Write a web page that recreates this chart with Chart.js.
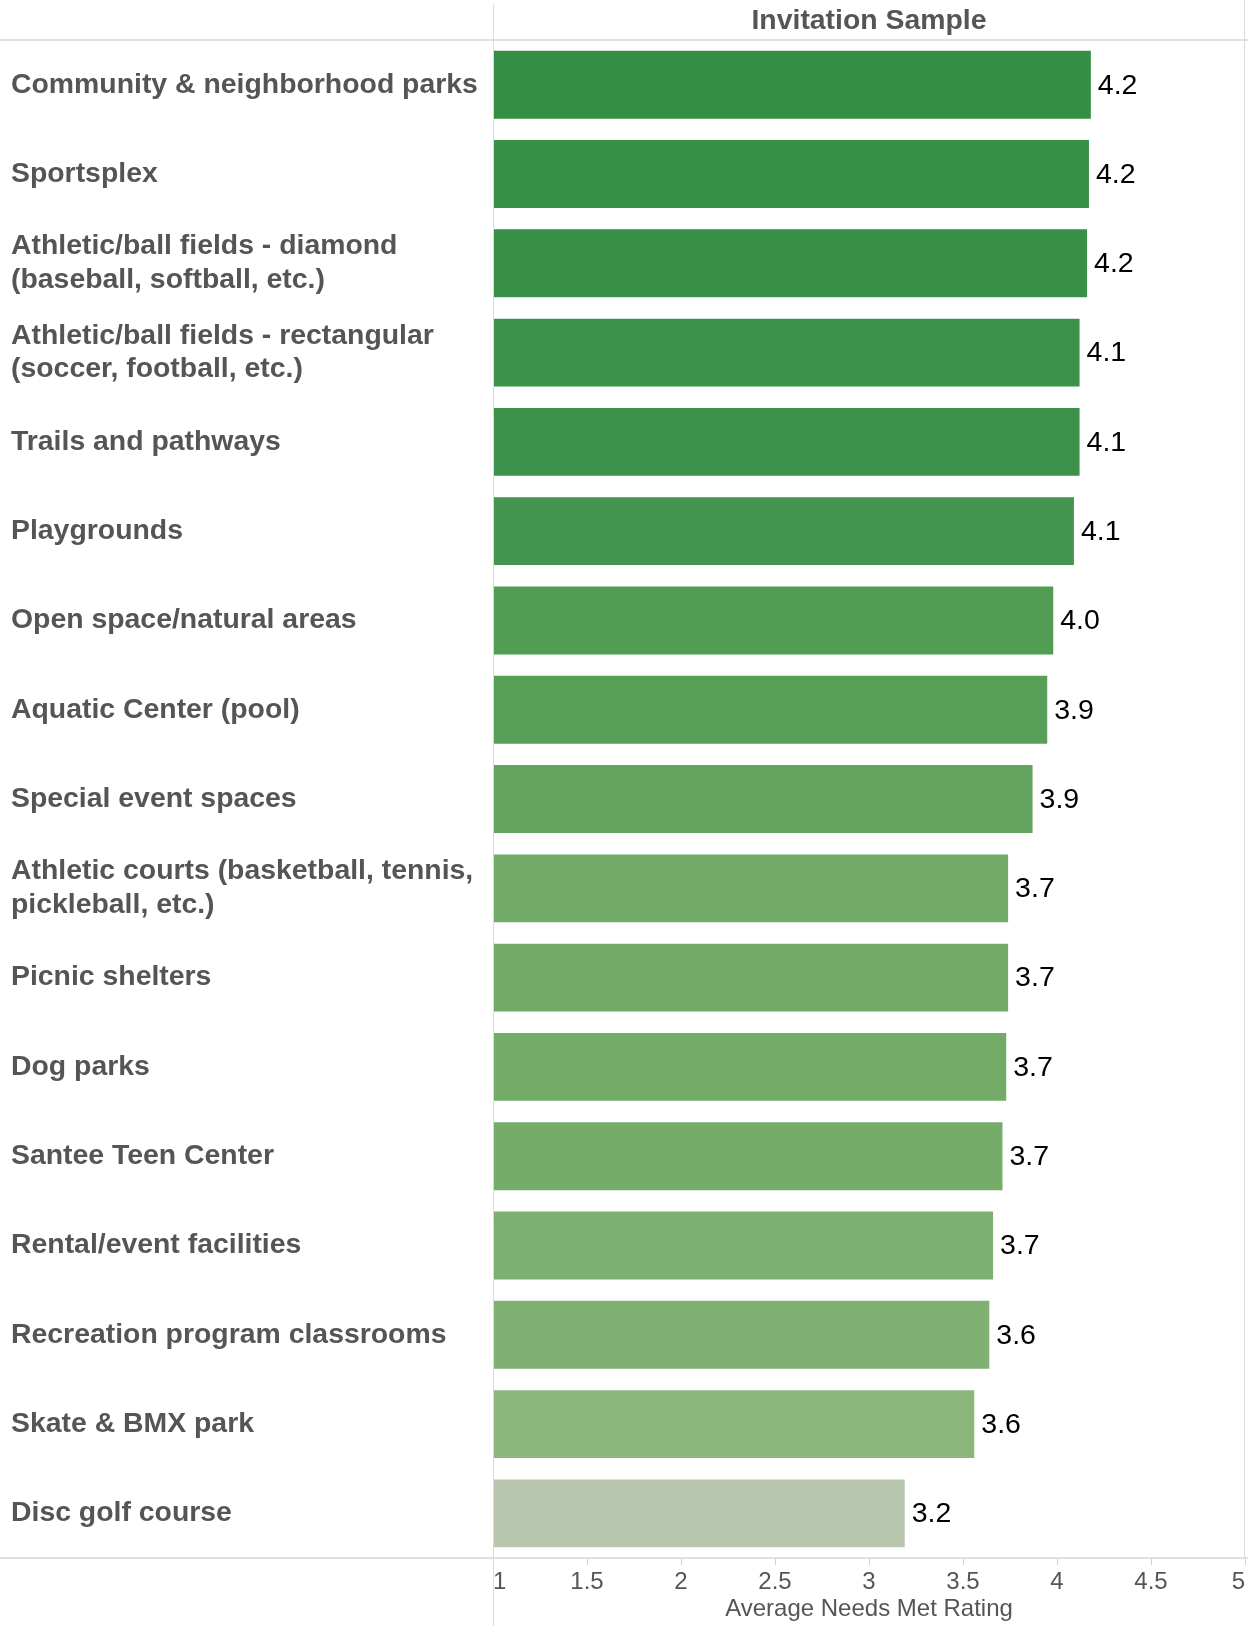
<!DOCTYPE html>
<html>
<head>
<meta charset="utf-8">
<script src="https://cdn.jsdelivr.net/npm/chart.js@4.4.1/dist/chart.umd.min.js"></script>
<style>
    body { margin: 0; background: #fff; }
    #wrap { width: 1248px; height: 1626px; position: relative; }
</style>
</head>
<body>
<div id="wrap"><canvas id="myChart"></canvas></div>
<script>
const categories = [
    "Community & neighborhood parks",
    "Sportsplex",
    ["Athletic/ball fields - diamond", "(baseball, softball, etc.)"],
    ["Athletic/ball fields - rectangular", "(soccer, football, etc.)"],
    "Trails and pathways",
    "Playgrounds",
    "Open space/natural areas",
    "Aquatic Center (pool)",
    "Special event spaces",
    ["Athletic courts (basketball, tennis,", "pickleball, etc.)"],
    "Picnic shelters",
    "Dog parks",
    "Santee Teen Center",
    "Rental/event facilities",
    "Recreation program classrooms",
    "Skate & BMX park",
    "Disc golf course",
];
const ratings = [4.18, 4.17, 4.16, 4.12, 4.12, 4.09, 3.98, 3.948, 3.87, 3.74, 3.74, 3.73, 3.71, 3.66, 3.64, 3.56, 3.19];
const xTicks = [1, 1.5, 2, 2.5, 3, 3.5, 4, 4.5, 5];
const headerText = "Invitation Sample";
const axisTitle = "Average Needs Met Rating";

// colour ramp (value -> rgb)
const colorStops = [
    [3.19, [184, 198, 174]],
    [3.56, [139, 183, 124]],
    [3.71, [118, 172, 106]],
    [3.74, [114, 170, 104]],
    [3.87, [99, 165, 94]],
    [3.97, [83, 157, 84]],
    [4.09, [66, 148, 78]],
    [4.18, [52, 143, 68]],
];
const rampColor = (v) => {
    if (v <= colorStops[0][0]) return "rgb(" + colorStops[0][1].join(",") + ")";
    for (let i = 1; i < colorStops.length; i++) {
        const [v1, c1] = colorStops[i];
        const [v0, c0] = colorStops[i - 1];
        if (v <= v1) {
            const t = (v - v0) / (v1 - v0);
            const c = c0.map((a, k) => Math.round(a + (c1[k] - a) * t));
            return "rgb(" + c.join(",") + ")";
        }
    }
    return "rgb(" + colorStops[colorStops.length - 1][1].join(",") + ")";
};

const FONT = "'Liberation Sans', Arial, Helvetica, sans-serif";
const GRAY = "#555555";

// frame lines + value labels
const framePlugin = {
    id: "frame",
    afterDraw(chart) {
        const { ctx, chartArea } = chart;
        const W = chart.width, H = chart.height;
        ctx.save();
        ctx.strokeStyle = "#d6d6d6";
        ctx.lineWidth = 1.5;
        ctx.beginPath();
        ctx.moveTo(0, chartArea.top);
        ctx.lineTo(W, chartArea.top);
        ctx.moveTo(0, chartArea.bottom);
        ctx.lineTo(W, chartArea.bottom);
        ctx.stroke();
        ctx.lineWidth = 1;
        ctx.strokeStyle = "#dcdcdc";
        ctx.beginPath();
        ctx.moveTo(chartArea.left + 0.5, 4);
        ctx.lineTo(chartArea.left + 0.5, H);
        ctx.moveTo(chartArea.right - 0.5, 0);
        ctx.lineTo(chartArea.right - 0.5, chartArea.bottom);
        ctx.stroke();

        // value labels
        const meta = chart.getDatasetMeta(0);
        ctx.fillStyle = "#000";
        ctx.font = "28.5px " + FONT;
        ctx.textAlign = "left";
        ctx.textBaseline = "middle";
        meta.data.forEach((bar, i) => {
            ctx.fillText(ratings[i].toFixed(1), bar.x + 7, bar.y + 1);
        });
        ctx.restore();
    },
};

const ctx = document.getElementById("myChart").getContext("2d");
const myChart = new Chart(ctx, {
    type: "bar",
    data: {
        labels: categories,
        datasets: [{
            data: ratings,
            backgroundColor: ratings.map(rampColor),
            barPercentage: 0.76,
            categoryPercentage: 1.0,
            borderWidth: 0,
        }],
    },
    options: {
        indexAxis: "y",
        responsive: true,
        maintainAspectRatio: false,
        animation: false,
        devicePixelRatio: 1,
        layout: { padding: { left: 11, right: 2, top: 0, bottom: 0 } },
        plugins: {
            legend: { display: false },
            tooltip: { enabled: false },
            title: {
                display: true,
                text: headerText,
                fullSize: false,
                align: "center",
                color: GRAY,
                font: { family: FONT, size: 28.4, weight: "bold", lineHeight: 1.2 },
                padding: { top: 4, bottom: 2 },
            },
        },
        scales: {
            x: {
                type: "linear",
                position: "bottom",
                min: 1,
                max: 5,
                afterBuildTicks: (scale) => {
                    scale.ticks = xTicks.map((v) => ({ value: v }));
                },
                afterFit: (scale) => { scale.height = 68; },
                grid: {
                    display: true,
                    drawOnChartArea: false,
                    drawTicks: true,
                    tickLength: 7,
                    color: "#cfcfcf",
                },
                border: { display: false },
                ticks: {
                    align: "inner",
                    padding: 3,
                    color: GRAY,
                    maxRotation: 0,
                    autoSkip: false,
                    font: { family: FONT, size: 24, lineHeight: 1.2 },
                    callback: (v) => String(v),
                },
                title: {
                    display: true,
                    text: axisTitle,
                    color: GRAY,
                    font: { family: FONT, size: 24, lineHeight: 1.0 },
                    padding: { top: 0, bottom: 5 },
                },
            },
            y: {
                afterFit: (scale) => { scale.width = 482; },
                grid: { display: false },
                border: { display: false },
                ticks: {
                    crossAlign: "far",
                    autoSkip: false,
                    color: GRAY,
                    font: { family: FONT, size: 28.4, weight: "bold", lineHeight: 1.18 },
                },
            },
        },
    },
    plugins: [framePlugin],
});
</script>
</body>
</html>
